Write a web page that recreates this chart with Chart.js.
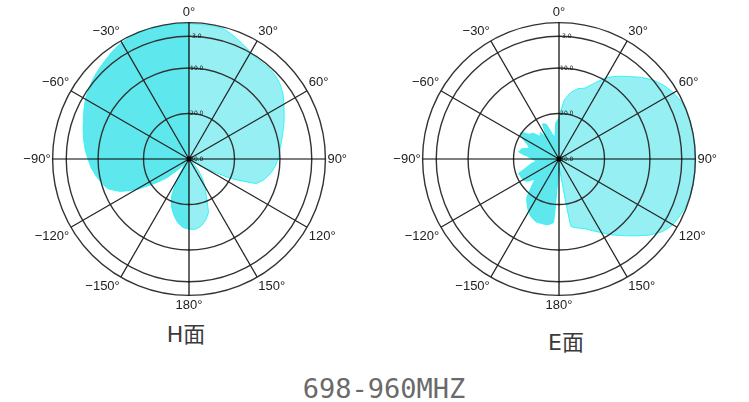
<!DOCTYPE html>
<html><head><meta charset="utf-8">
<script src="https://cdn.jsdelivr.net/npm/chart.js@4/dist/chart.umd.min.js"></script>
<style>
html,body{margin:0;padding:0;background:#fff;width:749px;height:402px;overflow:hidden;position:relative}
.wrap{position:absolute}
.lbl{position:absolute;font-family:"DejaVu Sans","Noto Sans CJK SC";color:#3a3a3a;white-space:nowrap;transform:translate(-50%,-50%);line-height:1}
</style></head><body>
<div class="wrap" style="left:-11px;top:6px;width:400px;height:308px"><canvas id="c1" width="400" height="308"></canvas></div>
<div class="wrap" style="left:359px;top:6px;width:400px;height:308px"><canvas id="c2" width="400" height="308"></canvas></div>
<div class="lbl" style="left:186px;top:335px;font-size:22px">H面</div>
<div class="lbl" style="left:566px;top:343px;font-size:22px">E面</div>
<div class="lbl" style="left:384px;top:388px;font-size:27px;font-family:'DejaVu Sans Mono';color:#6a6a6a">698-960MHZ</div>
<script>
// categories: azimuth in degrees (clockwise from top)
const angles = [0,5,10,15,20,25,30,35,40,45,50,55,60,65,70,75,80,85,90,95,100,105,110,115,120,125,130,135,140,145,150,155,160,165,170,175,180,185,190,195,200,205,210,215,220,225,230,235,240,245,250,255,260,265,270,275,280,285,290,295,300,305,310,315,320,325,330,335,340,345,350,355];
// spoke labels every 30 degrees
const spokeLabels = ['0°','30°','60°','90°','120°','150°','180°','−150°','−120°','−90°','−60°','−30°'];
// ring ticks (dB)
const ringTicks = [-30,-20,-10,-3,0];
const ringLabels = ['-30.0','-20.0','-10.0','-3.0',''];
// H-plane pattern (dB)
const hPattern = [-0.2,-0.3,-0.3,-0.4,-1.2,-2.1,-2.9,-3.4,-3.4,-3.5,-4.0,-4.8,-5.9,-6.9,-7.8,-8.7,-9.4,-10.0,-10.4,-11.0,-11.8,-12.8,-14.3,-20.0,-26.4,-29,-29.5,-29,-27,-25,-23,-21,-17.5,-16,-15,-14.5,-14.6,-14.9,-15.8,-17.2,-18.8,-21,-24.5,-27.5,-28.5,-27,-23.5,-20.5,-16.5,-13.2,-11,-10,-9.2,-8.4,-7.8,-7.1,-6.5,-5.9,-5.3,-4.5,-3.7,-3.1,-2.5,-2.0,-1.5,-0.9,-0.4,-0.2,0,0,-0.1,-0.2];
// E-plane pattern (dB)
const ePattern = [-21,-17,-15.2,-14,-13.4,-11.6,-9.4,-7.8,-6.3,-4.6,-3.0,-1.8,-0.9,-0.3,0,0,0,-0.1,-0.1,0,0,0,-0.2,-0.6,-1.1,-2.2,-4.0,-6.1,-8,-9.6,-11.3,-12.6,-13.7,-14.3,-15,-27,-28,-16,-15.3,-15.3,-15.3,-15.8,-16.6,-17.8,-19,-21.5,-23,-21.5,-20.8,-20.8,-20.5,-22.5,-23.7,-25,-24,-23,-21,-21.5,-23,-22.3,-20.5,-19.8,-21.5,-22,-23.5,-22.9,-24.5,-21.5,-21.9,-24.3,-25,-22];

const LEFT_FILL = 'rgb(94,232,238)';
const RIGHT_FILL = 'rgb(150,240,243)';

function splitFill(ctx){
  const chart = ctx.chart;
  const s = chart.scales && chart.scales.r;
  if (!s || !chart.chartArea) return RIGHT_FILL;
  const g = chart.ctx.createLinearGradient(s.xCenter - 0.5, 0, s.xCenter + 0.5, 0);
  g.addColorStop(0, LEFT_FILL);
  g.addColorStop(1, RIGHT_FILL);
  return g;
}

const centerDot = {
  id: 'centerDot',
  afterDraw(chart){
    const s = chart.scales.r, c = chart.ctx;
    c.save(); c.fillStyle = '#000'; c.beginPath();
    c.arc(s.xCenter, s.yCenter, 2.5, 0, Math.PI*2); c.fill(); c.restore();
  }
};

function makeChart(id, values){
  return new Chart(document.getElementById(id), {
    type: 'radar',
    data: {
      labels: angles.map(String),
      datasets: [{
        data: values,
        fill: 'start',
        backgroundColor: splitFill,
        borderColor: 'rgb(40,245,245)',
        borderWidth: 1,
        pointRadius: 0,
        tension: 0.12
      }]
    },
    options: {
      responsive: false,
      animation: false,
      layout: { padding: 0 },
      plugins: { legend: { display: false }, tooltip: { enabled: false } },
      scales: {
        r: {
          min: -30, max: 0,
          afterBuildTicks: (s) => { s.ticks = ringTicks.map(v => ({ value: v })); },
          ticks: {
            z: 1,
            showLabelBackdrop: false,
            color: '#111',
            font: { size: 6, family: 'DejaVu Sans' },
            callback: (v) => { const i = ringTicks.indexOf(v); const t = i >= 0 ? ringLabels[i] : ''; return t ? '\u00a0\u00a0\u00a0\u00a0\u00a0\u00a0\u00a0' + t : ''; }
          },
          grid: { z: 1, circular: true, color: '#333', lineWidth: 1.4 },
          angleLines: {
            color: (c) => (c.index % 6 === 0) ? ((c.index % 18 === 0) ? '#000' : '#222') : 'rgba(0,0,0,0)',
            lineWidth: 1.2
          },
          pointLabels: {
            padding: -3,
            color: '#222',
            font: { size: 13, family: 'Liberation Sans' },
            callback: (label, i) => (i % 6 === 0) ? spokeLabels[i / 6] : ''
          }
        }
      }
    },
    plugins: [centerDot]
  });
}
makeChart('c1', hPattern);
makeChart('c2', ePattern);
</script>
</body></html>
